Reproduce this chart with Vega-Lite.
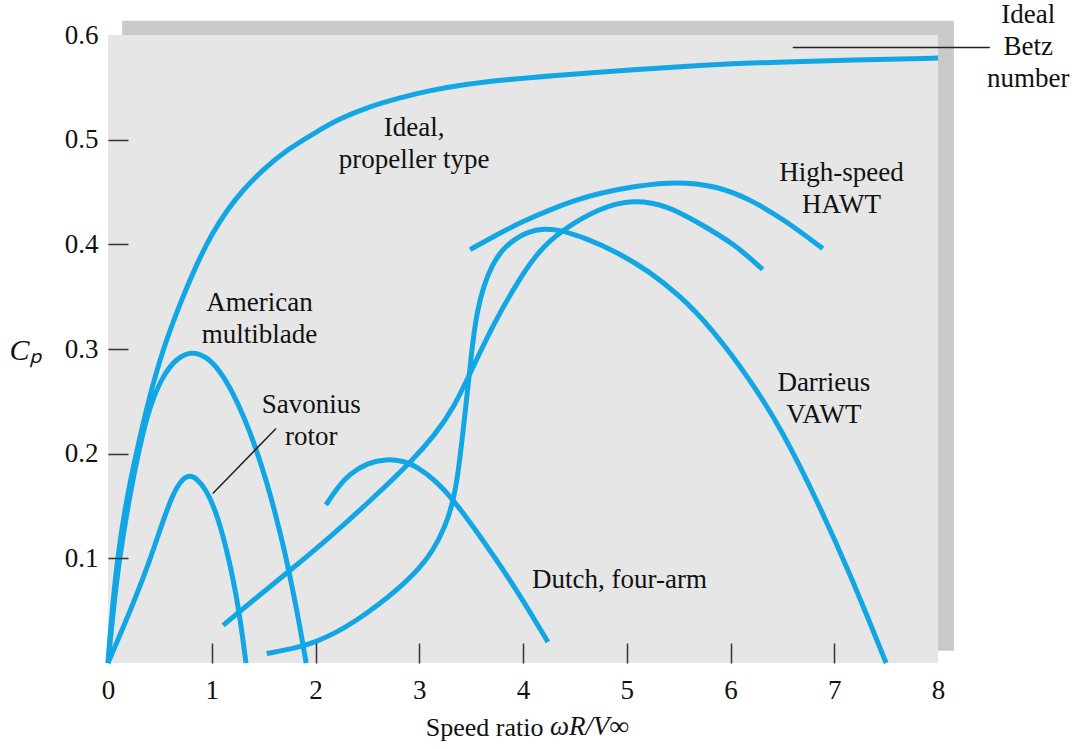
{
  "$schema": "https://vega.github.io/schema/vega-lite/v6.json",
  "width": 830,
  "height": 628,
  "autosize": "none",
  "padding": {"left": 108, "top": 35, "right": 140, "bottom": 86},
  "background": "white",
  "config": {"view": {"stroke": null}, "font": "Liberation Serif"},
  "datasets": {
    "curves": [
      {"series": "Ideal", "sr": 0, "cp": 0},
      {"series": "Ideal", "sr": 0.03, "cp": 0.04},
      {"series": "Ideal", "sr": 0.09, "cp": 0.1},
      {"series": "Ideal", "sr": 0.17, "cp": 0.152},
      {"series": "Ideal", "sr": 0.27, "cp": 0.2},
      {"series": "Ideal", "sr": 0.4, "cp": 0.255},
      {"series": "Ideal", "sr": 0.53, "cp": 0.3},
      {"series": "Ideal", "sr": 0.7, "cp": 0.345},
      {"series": "Ideal", "sr": 0.85, "cp": 0.38},
      {"series": "Ideal", "sr": 1.0, "cp": 0.41},
      {"series": "Ideal", "sr": 1.15, "cp": 0.433},
      {"series": "Ideal", "sr": 1.3, "cp": 0.452},
      {"series": "Ideal", "sr": 1.5, "cp": 0.472},
      {"series": "Ideal", "sr": 1.72, "cp": 0.49},
      {"series": "Ideal", "sr": 2.0, "cp": 0.507},
      {"series": "Ideal", "sr": 2.23, "cp": 0.52},
      {"series": "Ideal", "sr": 2.5, "cp": 0.531},
      {"series": "Ideal", "sr": 2.81, "cp": 0.54},
      {"series": "Ideal", "sr": 3.1, "cp": 0.547},
      {"series": "Ideal", "sr": 3.45, "cp": 0.553},
      {"series": "Ideal", "sr": 3.8, "cp": 0.557},
      {"series": "Ideal", "sr": 4.26, "cp": 0.561},
      {"series": "Ideal", "sr": 5.06, "cp": 0.567},
      {"series": "Ideal", "sr": 5.7, "cp": 0.571},
      {"series": "Ideal", "sr": 6.35, "cp": 0.574},
      {"series": "Ideal", "sr": 7.2, "cp": 0.576},
      {"series": "Ideal", "sr": 8.0, "cp": 0.578},

      {"series": "American multiblade", "sr": 0, "cp": 0},
      {"series": "American multiblade", "sr": 0.05, "cp": 0.05},
      {"series": "American multiblade", "sr": 0.11, "cp": 0.1},
      {"series": "American multiblade", "sr": 0.2, "cp": 0.155},
      {"series": "American multiblade", "sr": 0.3, "cp": 0.205},
      {"series": "American multiblade", "sr": 0.4, "cp": 0.245},
      {"series": "American multiblade", "sr": 0.53, "cp": 0.275},
      {"series": "American multiblade", "sr": 0.66, "cp": 0.291},
      {"series": "American multiblade", "sr": 0.8, "cp": 0.298},
      {"series": "American multiblade", "sr": 0.95, "cp": 0.293},
      {"series": "American multiblade", "sr": 1.08, "cp": 0.279},
      {"series": "American multiblade", "sr": 1.2, "cp": 0.259},
      {"series": "American multiblade", "sr": 1.32, "cp": 0.233},
      {"series": "American multiblade", "sr": 1.43, "cp": 0.204},
      {"series": "American multiblade", "sr": 1.53, "cp": 0.173},
      {"series": "American multiblade", "sr": 1.62, "cp": 0.14},
      {"series": "American multiblade", "sr": 1.7, "cp": 0.108},
      {"series": "American multiblade", "sr": 1.77, "cp": 0.075},
      {"series": "American multiblade", "sr": 1.84, "cp": 0.04},
      {"series": "American multiblade", "sr": 1.91, "cp": 0.0},

      {"series": "Savonius rotor", "sr": 0, "cp": 0},
      {"series": "Savonius rotor", "sr": 0.12, "cp": 0.028},
      {"series": "Savonius rotor", "sr": 0.24, "cp": 0.056},
      {"series": "Savonius rotor", "sr": 0.4, "cp": 0.097},
      {"series": "Savonius rotor", "sr": 0.52, "cp": 0.133},
      {"series": "Savonius rotor", "sr": 0.62, "cp": 0.16},
      {"series": "Savonius rotor", "sr": 0.7, "cp": 0.174},
      {"series": "Savonius rotor", "sr": 0.78, "cp": 0.18},
      {"series": "Savonius rotor", "sr": 0.86, "cp": 0.176},
      {"series": "Savonius rotor", "sr": 0.94, "cp": 0.166},
      {"series": "Savonius rotor", "sr": 1.02, "cp": 0.15},
      {"series": "Savonius rotor", "sr": 1.1, "cp": 0.125},
      {"series": "Savonius rotor", "sr": 1.17, "cp": 0.097},
      {"series": "Savonius rotor", "sr": 1.23, "cp": 0.068},
      {"series": "Savonius rotor", "sr": 1.28, "cp": 0.038},
      {"series": "Savonius rotor", "sr": 1.33, "cp": 0.0},

      {"series": "Dutch, four-arm", "sr": 2.1, "cp": 0.151},
      {"series": "Dutch, four-arm", "sr": 2.2, "cp": 0.166},
      {"series": "Dutch, four-arm", "sr": 2.33, "cp": 0.181},
      {"series": "Dutch, four-arm", "sr": 2.5, "cp": 0.191},
      {"series": "Dutch, four-arm", "sr": 2.68, "cp": 0.195},
      {"series": "Dutch, four-arm", "sr": 2.85, "cp": 0.193},
      {"series": "Dutch, four-arm", "sr": 2.97, "cp": 0.188},
      {"series": "Dutch, four-arm", "sr": 3.15, "cp": 0.175},
      {"series": "Dutch, four-arm", "sr": 3.33, "cp": 0.156},
      {"series": "Dutch, four-arm", "sr": 3.61, "cp": 0.118},
      {"series": "Dutch, four-arm", "sr": 3.94, "cp": 0.07},
      {"series": "Dutch, four-arm", "sr": 4.24, "cp": 0.02},

      {"series": "Darrieus VAWT", "sr": 1.53, "cp": 0.009},
      {"series": "Darrieus VAWT", "sr": 1.8, "cp": 0.014},
      {"series": "Darrieus VAWT", "sr": 2.0, "cp": 0.02},
      {"series": "Darrieus VAWT", "sr": 2.2, "cp": 0.029},
      {"series": "Darrieus VAWT", "sr": 2.4, "cp": 0.041},
      {"series": "Darrieus VAWT", "sr": 2.6, "cp": 0.055},
      {"series": "Darrieus VAWT", "sr": 2.8, "cp": 0.071},
      {"series": "Darrieus VAWT", "sr": 3.0, "cp": 0.09},
      {"series": "Darrieus VAWT", "sr": 3.13, "cp": 0.107},
      {"series": "Darrieus VAWT", "sr": 3.25, "cp": 0.13},
      {"series": "Darrieus VAWT", "sr": 3.33, "cp": 0.155},
      {"series": "Darrieus VAWT", "sr": 3.38, "cp": 0.185},
      {"series": "Darrieus VAWT", "sr": 3.42, "cp": 0.22},
      {"series": "Darrieus VAWT", "sr": 3.46, "cp": 0.255},
      {"series": "Darrieus VAWT", "sr": 3.49, "cp": 0.283},
      {"series": "Darrieus VAWT", "sr": 3.52, "cp": 0.31},
      {"series": "Darrieus VAWT", "sr": 3.56, "cp": 0.337},
      {"series": "Darrieus VAWT", "sr": 3.62, "cp": 0.36},
      {"series": "Darrieus VAWT", "sr": 3.7, "cp": 0.38},
      {"series": "Darrieus VAWT", "sr": 3.8, "cp": 0.395},
      {"series": "Darrieus VAWT", "sr": 3.92, "cp": 0.405},
      {"series": "Darrieus VAWT", "sr": 4.05, "cp": 0.412},
      {"series": "Darrieus VAWT", "sr": 4.2, "cp": 0.415},
      {"series": "Darrieus VAWT", "sr": 4.35, "cp": 0.414},
      {"series": "Darrieus VAWT", "sr": 4.6, "cp": 0.406},
      {"series": "Darrieus VAWT", "sr": 4.9, "cp": 0.393},
      {"series": "Darrieus VAWT", "sr": 5.22, "cp": 0.374},
      {"series": "Darrieus VAWT", "sr": 5.5, "cp": 0.352},
      {"series": "Darrieus VAWT", "sr": 5.8, "cp": 0.322},
      {"series": "Darrieus VAWT", "sr": 6.19, "cp": 0.271},
      {"series": "Darrieus VAWT", "sr": 6.51, "cp": 0.22},
      {"series": "Darrieus VAWT", "sr": 6.83, "cp": 0.156},
      {"series": "Darrieus VAWT", "sr": 7.15, "cp": 0.086},
      {"series": "Darrieus VAWT", "sr": 7.5, "cp": 0.0},

      {"series": "HAWT (medium)", "sr": 1.11, "cp": 0.036},
      {"series": "HAWT (medium)", "sr": 1.4, "cp": 0.06},
      {"series": "HAWT (medium)", "sr": 1.75, "cp": 0.088},
      {"series": "HAWT (medium)", "sr": 2.15, "cp": 0.121},
      {"series": "HAWT (medium)", "sr": 2.55, "cp": 0.157},
      {"series": "HAWT (medium)", "sr": 2.94, "cp": 0.194},
      {"series": "HAWT (medium)", "sr": 3.15, "cp": 0.218},
      {"series": "HAWT (medium)", "sr": 3.33, "cp": 0.243},
      {"series": "HAWT (medium)", "sr": 3.52, "cp": 0.283},
      {"series": "HAWT (medium)", "sr": 3.71, "cp": 0.323},
      {"series": "HAWT (medium)", "sr": 3.97, "cp": 0.368},
      {"series": "HAWT (medium)", "sr": 4.15, "cp": 0.393},
      {"series": "HAWT (medium)", "sr": 4.35, "cp": 0.412},
      {"series": "HAWT (medium)", "sr": 4.74, "cp": 0.435},
      {"series": "HAWT (medium)", "sr": 5.06, "cp": 0.443},
      {"series": "HAWT (medium)", "sr": 5.4, "cp": 0.437},
      {"series": "HAWT (medium)", "sr": 5.7, "cp": 0.42},
      {"series": "HAWT (medium)", "sr": 6.03, "cp": 0.401},
      {"series": "HAWT (medium)", "sr": 6.31, "cp": 0.376},

      {"series": "High-speed HAWT", "sr": 3.49, "cp": 0.395},
      {"series": "High-speed HAWT", "sr": 3.78, "cp": 0.411},
      {"series": "High-speed HAWT", "sr": 4.0, "cp": 0.422},
      {"series": "High-speed HAWT", "sr": 4.26, "cp": 0.433},
      {"series": "High-speed HAWT", "sr": 4.5, "cp": 0.442},
      {"series": "High-speed HAWT", "sr": 4.74, "cp": 0.449},
      {"series": "High-speed HAWT", "sr": 5.1, "cp": 0.456},
      {"series": "High-speed HAWT", "sr": 5.48, "cp": 0.46},
      {"series": "High-speed HAWT", "sr": 5.86, "cp": 0.456},
      {"series": "High-speed HAWT", "sr": 6.19, "cp": 0.443},
      {"series": "High-speed HAWT", "sr": 6.51, "cp": 0.424},
      {"series": "High-speed HAWT", "sr": 6.89, "cp": 0.396}
    ],
    "labels": [
      {"label": "Ideal,\npropeller type", "sr": 2.95, "cp": 0.5115},
      {"label": "American\nmultiblade", "sr": 1.46, "cp": 0.344},
      {"label": "Savonius\nrotor", "sr": 1.96, "cp": 0.2467},
      {"label": "Dutch, four-arm", "sr": 4.93, "cp": 0.079},
      {"label": "Darrieus\nVAWT", "sr": 6.9, "cp": 0.2677},
      {"label": "High-speed\nHAWT", "sr": 7.07, "cp": 0.4685},
      {"label": "Ideal\nBetz\nnumber", "sr": 8.87, "cp": 0.6195}
    ],
    "math": [
      {"label": "ωR/V∞", "sr": 4.26, "cp": -0.0612}
    ],
    "leaders": [
      {"sr": 1.01, "cp": 0.162, "sr2": 1.62, "cp2": 0.224},
      {"sr": 6.6, "cp": 0.588, "sr2": 8.5, "cp2": 0.588}
    ]
  },
  "layer": [
    {
      "data": {"values": [{}]},
      "mark": {"type": "rect", "color": "#c9c9c9", "clip": false},
      "encoding": {
        "x": {"datum": 0.137, "type": "quantitative"},
        "x2": {"datum": 8.153},
        "y": {"datum": 0.0118, "type": "quantitative"},
        "y2": {"datum": 0.6135}
      }
    },
    {
      "data": {"values": [{}]},
      "mark": {"type": "rect", "color": "#e6e6e6", "clip": false},
      "encoding": {
        "x": {"datum": 0, "type": "quantitative"},
        "x2": {"datum": 8},
        "y": {"datum": 0, "type": "quantitative"},
        "y2": {"datum": 0.6}
      }
    },
    {
      "data": {"name": "curves"},
      "mark": {"type": "line", "interpolate": "basis", "color": "#12a6e4", "strokeWidth": 5},
      "encoding": {
        "x": {
          "field": "sr", "type": "quantitative",
          "scale": {"domain": [0, 8], "nice": false, "zero": false},
          "axis": {
            "values": [0, 1, 2, 3, 4, 5, 6, 7, 8],
            "format": "d",
            "zindex": 1,
            "domain": false, "grid": false,
            "tickSize": -20, "tickWidth": 1.5,
            "tickColor": {"condition": {"test": "datum.value == 0 || datum.value == 8", "value": "rgba(0,0,0,0)"}, "value": "#333333"},
            "labelPadding": 34,
            "labelFont": "Liberation Serif", "labelFontSize": 27, "labelColor": "#111111",
            "labelFlush": false,
            "title": "Speed ratio",
            "titleFont": "Liberation Serif", "titleFontSize": 26, "titleFontWeight": "normal", "titleColor": "#111111",
            "titleX": 435, "titleY": 64, "titleAlign": "right", "titleBaseline": "middle"
          }
        },
        "y": {
          "field": "cp", "type": "quantitative",
          "scale": {"domain": [0, 0.6], "nice": false, "zero": false},
          "axis": {
            "values": [0.1, 0.2, 0.3, 0.4, 0.5, 0.6],
            "format": ".1f",
            "zindex": 1,
            "domain": false, "grid": false,
            "tickSize": -20, "tickWidth": 1.5,
            "tickColor": {"condition": {"test": "datum.value > 0.55", "value": "rgba(0,0,0,0)"}, "value": "#333333"},
            "labelPadding": 30,
            "labelFont": "Liberation Serif", "labelFontSize": 27, "labelColor": "#111111",
            "labelFlush": false,
            "title": "Cₚ",
            "titleAngle": 0,
            "titleFont": "Liberation Serif", "titleFontSize": 30, "titleFontStyle": "italic", "titleFontWeight": "normal", "titleColor": "#111111",
            "titleX": -83, "titleY": 315, "titleAlign": "center", "titleBaseline": "middle"
          }
        },
        "detail": {"field": "series", "type": "nominal"}
      }
    },
    {
      "data": {"name": "leaders"},
      "mark": {"type": "rule", "color": "#222222", "strokeWidth": 1.5, "clip": false},
      "encoding": {
        "x": {"field": "sr", "type": "quantitative"},
        "y": {"field": "cp", "type": "quantitative"},
        "x2": {"field": "sr2"},
        "y2": {"field": "cp2"}
      }
    },
    {
      "data": {"name": "labels"},
      "mark": {"type": "text", "font": "Liberation Serif", "fontSize": 27, "color": "#111111", "lineBreak": "\n", "lineHeight": 32, "align": "center", "baseline": "middle", "clip": false},
      "encoding": {
        "x": {"field": "sr", "type": "quantitative"},
        "y": {"field": "cp", "type": "quantitative"},
        "text": {"field": "label", "type": "nominal"}
      }
    },
    {
      "data": {"name": "math"},
      "mark": {"type": "text", "font": "Liberation Serif", "fontSize": 27, "fontStyle": "italic", "color": "#111111", "align": "left", "baseline": "middle", "clip": false},
      "encoding": {
        "x": {"field": "sr", "type": "quantitative"},
        "y": {"field": "cp", "type": "quantitative"},
        "text": {"field": "label", "type": "nominal"}
      }
    }
  ]
}
